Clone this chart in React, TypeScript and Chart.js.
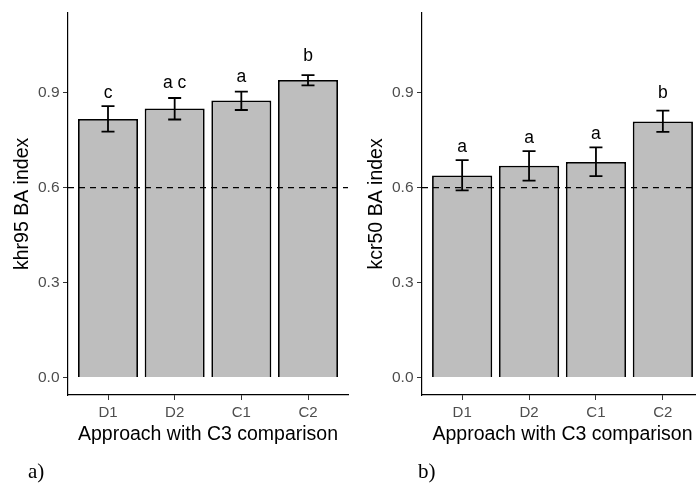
import React, { useEffect, useRef } from 'react';
import { Chart, registerables } from 'chart.js';

Chart.register(...registerables);

const categories = ['D1', 'D2', 'C1', 'C2'];
const yTickValues = [0, 0.3, 0.6, 0.9];
const threshold = 0.6;
const xTitle = 'Approach with C3 comparison';

const khr95Mean = [0.817, 0.85, 0.875, 0.94];
const khr95Lower = [0.777, 0.815, 0.845, 0.923];
const khr95Upper = [0.857, 0.883, 0.903, 0.955];
const khr95Letters = ['c', 'a c', 'a', 'b'];
const khr95LetterY = [0.884, 0.915, 0.933, 1.0];

const kcr50Mean = [0.638, 0.669, 0.681, 0.809];
const kcr50Lower = [0.591, 0.622, 0.636, 0.776];
const kcr50Upper = [0.687, 0.715, 0.727, 0.843];
const kcr50Letters = ['a', 'a', 'a', 'b'];
const kcr50LetterY = [0.7125, 0.742, 0.754, 0.882];

const SANS = "'Liberation Sans', Arial, sans-serif";
const SERIF = "'Liberation Serif', 'DejaVu Serif', serif";

type PanelProps = {
  left: number;
  width: number;
  padRight: number;
  mean: number[];
  lower: number[];
  upper: number[];
  letters: string[];
  letterY: number[];
  yTitle: string;
  panelLabel: string;
  panelLabelX: number;
};

function Panel(p: PanelProps) {
  const ref = useRef<HTMLCanvasElement | null>(null);
  useEffect(() => {
    if (!ref.current) return;
    const overlay = {
      id: 'overlay',
      afterDatasetsDraw(chart: any) {
        const ctx = chart.ctx;
        const xs = chart.scales.x;
        const ys = chart.scales.y;
        ctx.save();
        ctx.strokeStyle = '#000';
        ctx.lineWidth = 1.8;
        const cap = 6.5;
        p.mean.forEach((_, i) => {
          const x = xs.getPixelForValue(i);
          const y1 = ys.getPixelForValue(p.lower[i]);
          const y2 = ys.getPixelForValue(p.upper[i]);
          ctx.beginPath();
          ctx.moveTo(x, y1);
          ctx.lineTo(x, y2);
          ctx.moveTo(x - cap, y1);
          ctx.lineTo(x + cap, y1);
          ctx.moveTo(x - cap, y2);
          ctx.lineTo(x + cap, y2);
          ctx.stroke();
        });
        ctx.fillStyle = '#000';
        ctx.font = `17.5px ${SANS}`;
        ctx.textAlign = 'center';
        ctx.textBaseline = 'alphabetic';
        p.letters.forEach((t, i) => {
          ctx.fillText(t, xs.getPixelForValue(i), ys.getPixelForValue(p.letterY[i]));
        });
        ctx.restore();
      },
      afterDraw(chart: any) {
        const ctx = chart.ctx;
        ctx.save();
        ctx.fillStyle = '#000';
        ctx.font = `21px ${SERIF}`;
        ctx.textAlign = 'left';
        ctx.textBaseline = 'alphabetic';
        ctx.fillText(p.panelLabel, p.panelLabelX, 478);
        ctx.restore();
      },
    };
    const gridOpts = {
      offset: false,
      drawOnChartArea: false,
      drawTicks: true,
      tickLength: 5,
      color: '#333333',
      lineWidth: 1,
    };
    const chart = new Chart(ref.current, {
      type: 'bar',
      data: {
        datasets: [
          {
            type: 'line',
            data: [
              { x: -0.6, y: threshold },
              { x: 3.6, y: threshold },
            ],
            borderColor: '#000',
            borderWidth: 1.4,
            borderDash: [6, 5],
            pointRadius: 0,
            fill: false,
            order: 0,
          } as any,
          {
            type: 'bar',
            data: p.mean.map((v, i) => ({ x: i, y: v })),
            backgroundColor: '#bebebe',
            borderColor: '#000',
            borderWidth: 1.8,
            barPercentage: 0.9,
            categoryPercentage: 1.0,
            order: 1,
          } as any,
        ],
      },
      options: {
        animation: false,
        responsive: false,
        maintainAspectRatio: false,
        layout: { padding: { top: 9, right: p.padRight, left: 0, bottom: 0 } },
        plugins: { legend: { display: false }, tooltip: { enabled: false } },
        scales: {
          x: {
            type: 'linear',
            offset: false,
            min: -0.6,
            max: 3.6,
            afterBuildTicks: (s: any) => {
              s.ticks = categories.map((_, i) => ({ value: i }));
            },
            afterFit: (s: any) => {
              s.height = 91;
            },
            ticks: {
              callback: (_v: any, i: number) => categories[i],
              color: '#4d4d4d',
              font: { family: SANS, size: 15 },
              padding: 4,
              maxRotation: 0,
              autoSkip: false,
            },
            grid: gridOpts,
            border: { display: true, color: '#000', width: 1.2 },
            title: {
              display: true,
              text: xTitle,
              color: '#000',
              font: { family: SANS, size: 19.5 },
              padding: { top: 0, bottom: 40 },
            },
          },
          y: {
            type: 'linear',
            min: -0.055,
            max: 1.152,
            afterBuildTicks: (s: any) => {
              s.ticks = yTickValues.map((v) => ({ value: v }));
            },
            afterFit: (s: any) => {
              s.width = 68;
            },
            ticks: {
              callback: (v: any) => Number(v).toFixed(1),
              color: '#4d4d4d',
              font: { family: SANS, size: 15.5 },
              padding: 3.5,
            },
            grid: gridOpts,
            border: { display: true, color: '#000', width: 1.2 },
            title: {
              display: true,
              text: p.yTitle,
              color: '#000',
              font: { family: SANS, size: 19.5 },
              padding: { top: 11, bottom: 0 },
            },
          },
        },
      } as any,
      plugins: [overlay],
    });
    return () => chart.destroy();
  }, []);
  return (
    <canvas
      ref={ref}
      width={p.width}
      height={486}
      style={{ position: 'absolute', left: p.left, top: 0, width: p.width, height: 486 }}
    />
  );
}

export default function App() {
  return (
    <div
      style={{
        position: 'fixed',
        left: 0,
        top: 0,
        width: 696,
        height: 486,
        overflow: 'hidden',
        background: '#fff',
      }}
    >
      <Panel
        left={0}
        width={350}
        padRight={2}
        mean={khr95Mean}
        lower={khr95Lower}
        upper={khr95Upper}
        letters={khr95Letters}
        letterY={khr95LetterY}
        yTitle="khr95 BA index"
        panelLabel="a)"
        panelLabelX={28}
      />
      <Panel
        left={354}
        width={356}
        padRight={7}
        mean={kcr50Mean}
        lower={kcr50Lower}
        upper={kcr50Upper}
        letters={kcr50Letters}
        letterY={kcr50LetterY}
        yTitle="kcr50 BA index"
        panelLabel="b)"
        panelLabelX={64}
      />
    </div>
  );
}
